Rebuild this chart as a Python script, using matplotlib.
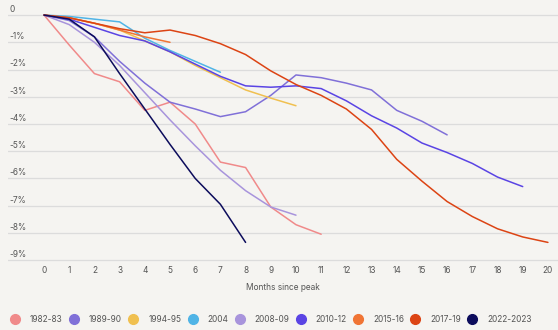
import numpy as np
import matplotlib
matplotlib.use("Agg")
import matplotlib.pyplot as plt
from matplotlib.lines import Line2D

plt.rcParams['font.family'] = ['Inter', 'DejaVu Sans']

# house price falls (%) from peak, by month since peak
labels = ['1982-83', '1989-90', '1994-95', '2004', '2008-09',
          '2010-12', '2015-16', '2017-19', '2022-2023']
colors = ['#f08a8a', '#8070d8', '#f0c050', '#50b4e6', '#a894dc',
          '#5a44e4', '#f07434', '#dc4414', '#0c0c5c']

v1982 = [0, -1.1, -2.15, -2.45, -3.5, -3.2, -4.0, -5.4, -5.6, -7.05, -7.7, -8.05]
v1989 = [0, -0.2, -0.8, -1.7, -2.5, -3.2, -3.45, -3.73, -3.55, -2.95, -2.2,
         -2.3, -2.5, -2.75, -3.5, -3.9, -4.4]
v1994 = [0, -0.1, -0.3, -0.55, -0.95, -1.35, -1.85, -2.3, -2.75, -3.05, -3.33]
v2004 = [0, -0.05, -0.15, -0.25, -0.85, -1.3, -1.7, -2.1]
v2008 = [0, -0.35, -1.0, -1.85, -2.85, -3.85, -4.8, -5.7, -6.45, -7.05, -7.35]
v2010 = [0, -0.15, -0.45, -0.75, -0.95, -1.35, -1.8, -2.25, -2.6, -2.65, -2.6,
         -2.7, -3.15, -3.7, -4.15, -4.7, -5.05, -5.45, -5.95, -6.3]
v2015 = [0, -0.1, -0.3, -0.55, -0.8, -1.0]
v2017 = [0, -0.1, -0.3, -0.5, -0.65, -0.55, -0.75, -1.05, -1.45, -2.05, -2.55,
         -2.95, -3.45, -4.2, -5.3, -6.1, -6.85, -7.4, -7.85, -8.15, -8.35]
v2022 = [0, -0.15, -0.8, -2.15, -3.45, -4.75, -6.0, -6.95, -8.35]
series = [v1982, v1989, v1994, v2004, v2008, v2010, v2015, v2017, v2022]

yticks = [0, -1, -2, -3, -4, -5, -6, -7, -8, -9]
ytick_labels = ['0', '-1%', '-2%', '-3%', '-4%', '-5%', '-6%', '-7%', '-8%', '-9%']
months = list(range(21))

bg = '#f5f4f1'
txt = '#555555'

fig = plt.figure(figsize=(5.58, 3.3), dpi=100, facecolor=bg)
ax = fig.add_axes([8/558, 68/330, 550/558, 257/330], facecolor=bg)

for vals, c in zip(series, colors):
    ax.plot(range(len(vals)), vals, color=c, lw=1.1, solid_capstyle='round')

ax.set_xlim(-1.43, 20.4)
ax.set_ylim(-9.07, 0.37)
ax.set_yticks(yticks)
ax.set_yticklabels([])
ax.set_xticks(months)
ax.set_xticklabels([str(m) for m in months], fontsize=6, color=txt)
ax.tick_params(length=0, pad=3)
ax.grid(axis='y', color='#dcdcdc', lw=0.9)
ax.set_axisbelow(True)
for s in ax.spines.values():
    s.set_visible(False)

for v, lab in zip(yticks, ytick_labels):
    ax.annotate(lab, xy=(0, v), xycoords=('axes fraction', 'data'),
                xytext=(1, 4), textcoords='offset points',
                fontsize=6, color=txt, ha='left', va='center')

ax.set_xlabel('Months since peak', fontsize=6, color=txt, labelpad=6)

handles = [Line2D([], [], ls='none', marker='o', markersize=7, color=c) for c in colors]
fig.legend(handles, labels, loc='lower left', bbox_to_anchor=(0.009, 0.0),
           ncol=9, frameon=False, fontsize=6, labelcolor=txt,
           handlelength=1.0, handletextpad=1.3, columnspacing=0.85,
           borderaxespad=0.3)

fig.savefig('out.png', dpi=100, facecolor=bg)
